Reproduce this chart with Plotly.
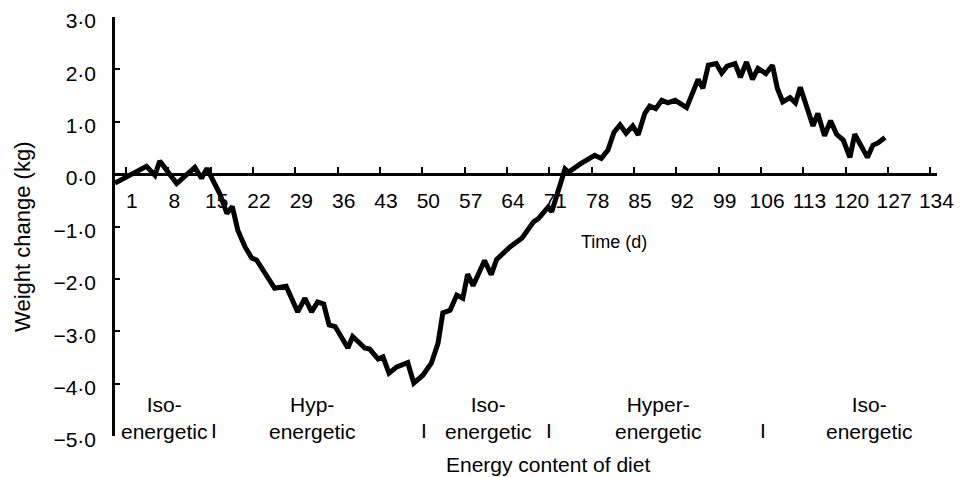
import plotly.graph_objects as go

# days (at each vertex of the line) and weight change (kg)
days = [-1.8, 3.4, 4.8, 5.6, 8.4, 11.4, 12.5, 13.4, 15.5, 16.7, 17.6, 18.5, 19.7, 20.8,
        21.6, 23.0, 24.6, 26.5, 28.4, 29.6, 30.7, 31.7, 32.7, 33.6, 34.6, 36.7, 37.5,
        39.5, 40.3, 41.7, 42.5, 43.5, 44.8, 46.6, 47.6, 49.1, 50.5, 51.6, 52.4, 53.6,
        54.7, 55.7, 56.5, 57.4, 59.3, 60.4, 61.3, 63.5, 65.5, 67.4, 68.2, 69.8, 70.4,
        72.6, 73.2, 75.2, 77.5, 78.6, 79.7, 80.7, 81.7, 82.7, 83.8, 84.7, 85.8, 86.6,
        87.6, 88.6, 89.6, 90.8, 92.7, 94.6, 95.4, 96.3, 97.6, 98.5, 99.4, 100.7, 101.6,
        102.6, 103.6, 104.5, 105.8, 106.9, 107.7, 108.6, 109.8, 110.7, 111.5, 113.6,
        114.4, 115.5, 116.5, 117.5, 118.6, 119.7, 120.5, 122.6, 123.5, 124.4, 125.5]
weight = [-0.17, 0.15, -0.02, 0.25, -0.18, 0.13, -0.08, 0.11, -0.37, -0.75, -0.62, -1.07,
          -1.39, -1.60, -1.64, -1.89, -2.18, -2.14, -2.63, -2.37, -2.63, -2.44, -2.48,
          -2.88, -2.91, -3.32, -3.10, -3.32, -3.34, -3.53, -3.49, -3.80, -3.68, -3.60,
          -3.99, -3.84, -3.61, -3.23, -2.65, -2.60, -2.31, -2.37, -1.91, -2.13, -1.65,
          -1.92, -1.63, -1.39, -1.22, -0.91, -0.85, -0.63, -0.72, 0.10, 0.04, 0.20, 0.36,
          0.30, 0.46, 0.80, 0.94, 0.78, 0.92, 0.75, 1.16, 1.30, 1.25, 1.41, 1.36, 1.41,
          1.27, 1.81, 1.64, 2.08, 2.11, 1.93, 2.06, 2.11, 1.85, 2.14, 1.81, 2.02, 1.92,
          2.08, 1.64, 1.38, 1.46, 1.36, 1.66, 0.92, 1.16, 0.73, 1.02, 0.76, 0.65, 0.32,
          0.76, 0.32, 0.55, 0.60, 0.70]

x_labels = [1, 8, 15, 22, 29, 36, 43, 50, 57, 64, 71, 78, 85, 92, 99, 106, 113, 120, 127, 134]
x_tick_marks = [d - 1 for d in x_labels]
y_ticks = [3, 2, 1, 0, -1, -2, -3, -4, -5]
y_ticktext = [f"{v:.1f}".replace(".", "·").replace("-", "−") for v in y_ticks]

phase_names = ["Iso-<br>energetic", "Hyp-<br>energetic", "Iso-<br>energetic",
               "Hyper-<br>energetic", "Iso-<br>energetic"]
phase_centres = [6.3, 30.8, 59.8, 87.9, 122.8]
phase_breaks = [14.6, 49.3, 69.9, 105.3]

FONT = "Liberation Sans, Arial, sans-serif"

fig = go.Figure()
fig.add_trace(go.Scatter(x=days, y=weight, mode="lines",
                         line=dict(color="black", width=5), showlegend=False))

fig.update_xaxes(
    range=[-1.8, 134.1], anchor="free", position=0.625, automargin=False,
    showline=True, linecolor="black", linewidth=2.5,
    tickmode="array", tickvals=x_labels, ticktext=[str(d) for d in x_labels],
    ticks="", showgrid=False, zeroline=False, ticklabeloverflow="allow",
    tickfont=dict(family=FONT, size=21, color="black"), ticklabelstandoff=7,
    minor=dict(tickmode="array", tickvals=x_tick_marks, ticks="inside",
               ticklen=6, tickwidth=2, tickcolor="black", showgrid=False),
)
fig.update_yaxes(
    range=[-5, 3], automargin=False, showline=True, linecolor="black", linewidth=2.5,
    tickmode="array", tickvals=y_ticks, ticktext=y_ticktext,
    ticks="inside", ticklen=5, tickwidth=2, tickcolor="black",
    showgrid=False, zeroline=False, ticklabeloverflow="allow",
    tickfont=dict(family=FONT, size=21, color="black"), ticklabelstandoff=12,
    ticklabelshift=4,
)

ann = []
for name, c in zip(phase_names, phase_centres):
    ann.append(dict(x=c, y=-4.66, xref="x", yref="y", text=name, showarrow=False,
                    font=dict(family=FONT, size=21, color="black")))
for b in phase_breaks:
    ann.append(dict(x=b, y=-4.9, xref="x", yref="y", text="I", showarrow=False,
                    font=dict(family=FONT, size=21, color="black")))
ann.append(dict(x=80.7, y=-1.3, xref="x", yref="y", text="Time (d)", showarrow=False,
                font=dict(family=FONT, size=18, color="black")))
ann.append(dict(x=-0.112, y=0.475, xref="paper", yref="paper", text="Weight change (kg)",
                textangle=-90, showarrow=False, xanchor="center", yanchor="middle",
                font=dict(family=FONT, size=22, color="black")))
ann.append(dict(x=0.527, y=-0.067, xref="paper", yref="paper", text="Energy content of diet",
                showarrow=False, xanchor="center", yanchor="middle",
                font=dict(family=FONT, size=21, color="black")))

# the page puts the figure 8 px in from the top-left corner
fig.update_layout(
    width=962, height=477,
    margin=dict(l=107, r=33, t=9, b=49),
    plot_bgcolor="white", paper_bgcolor="white",
    annotations=ann,
)

fig.write_html("out.html")
